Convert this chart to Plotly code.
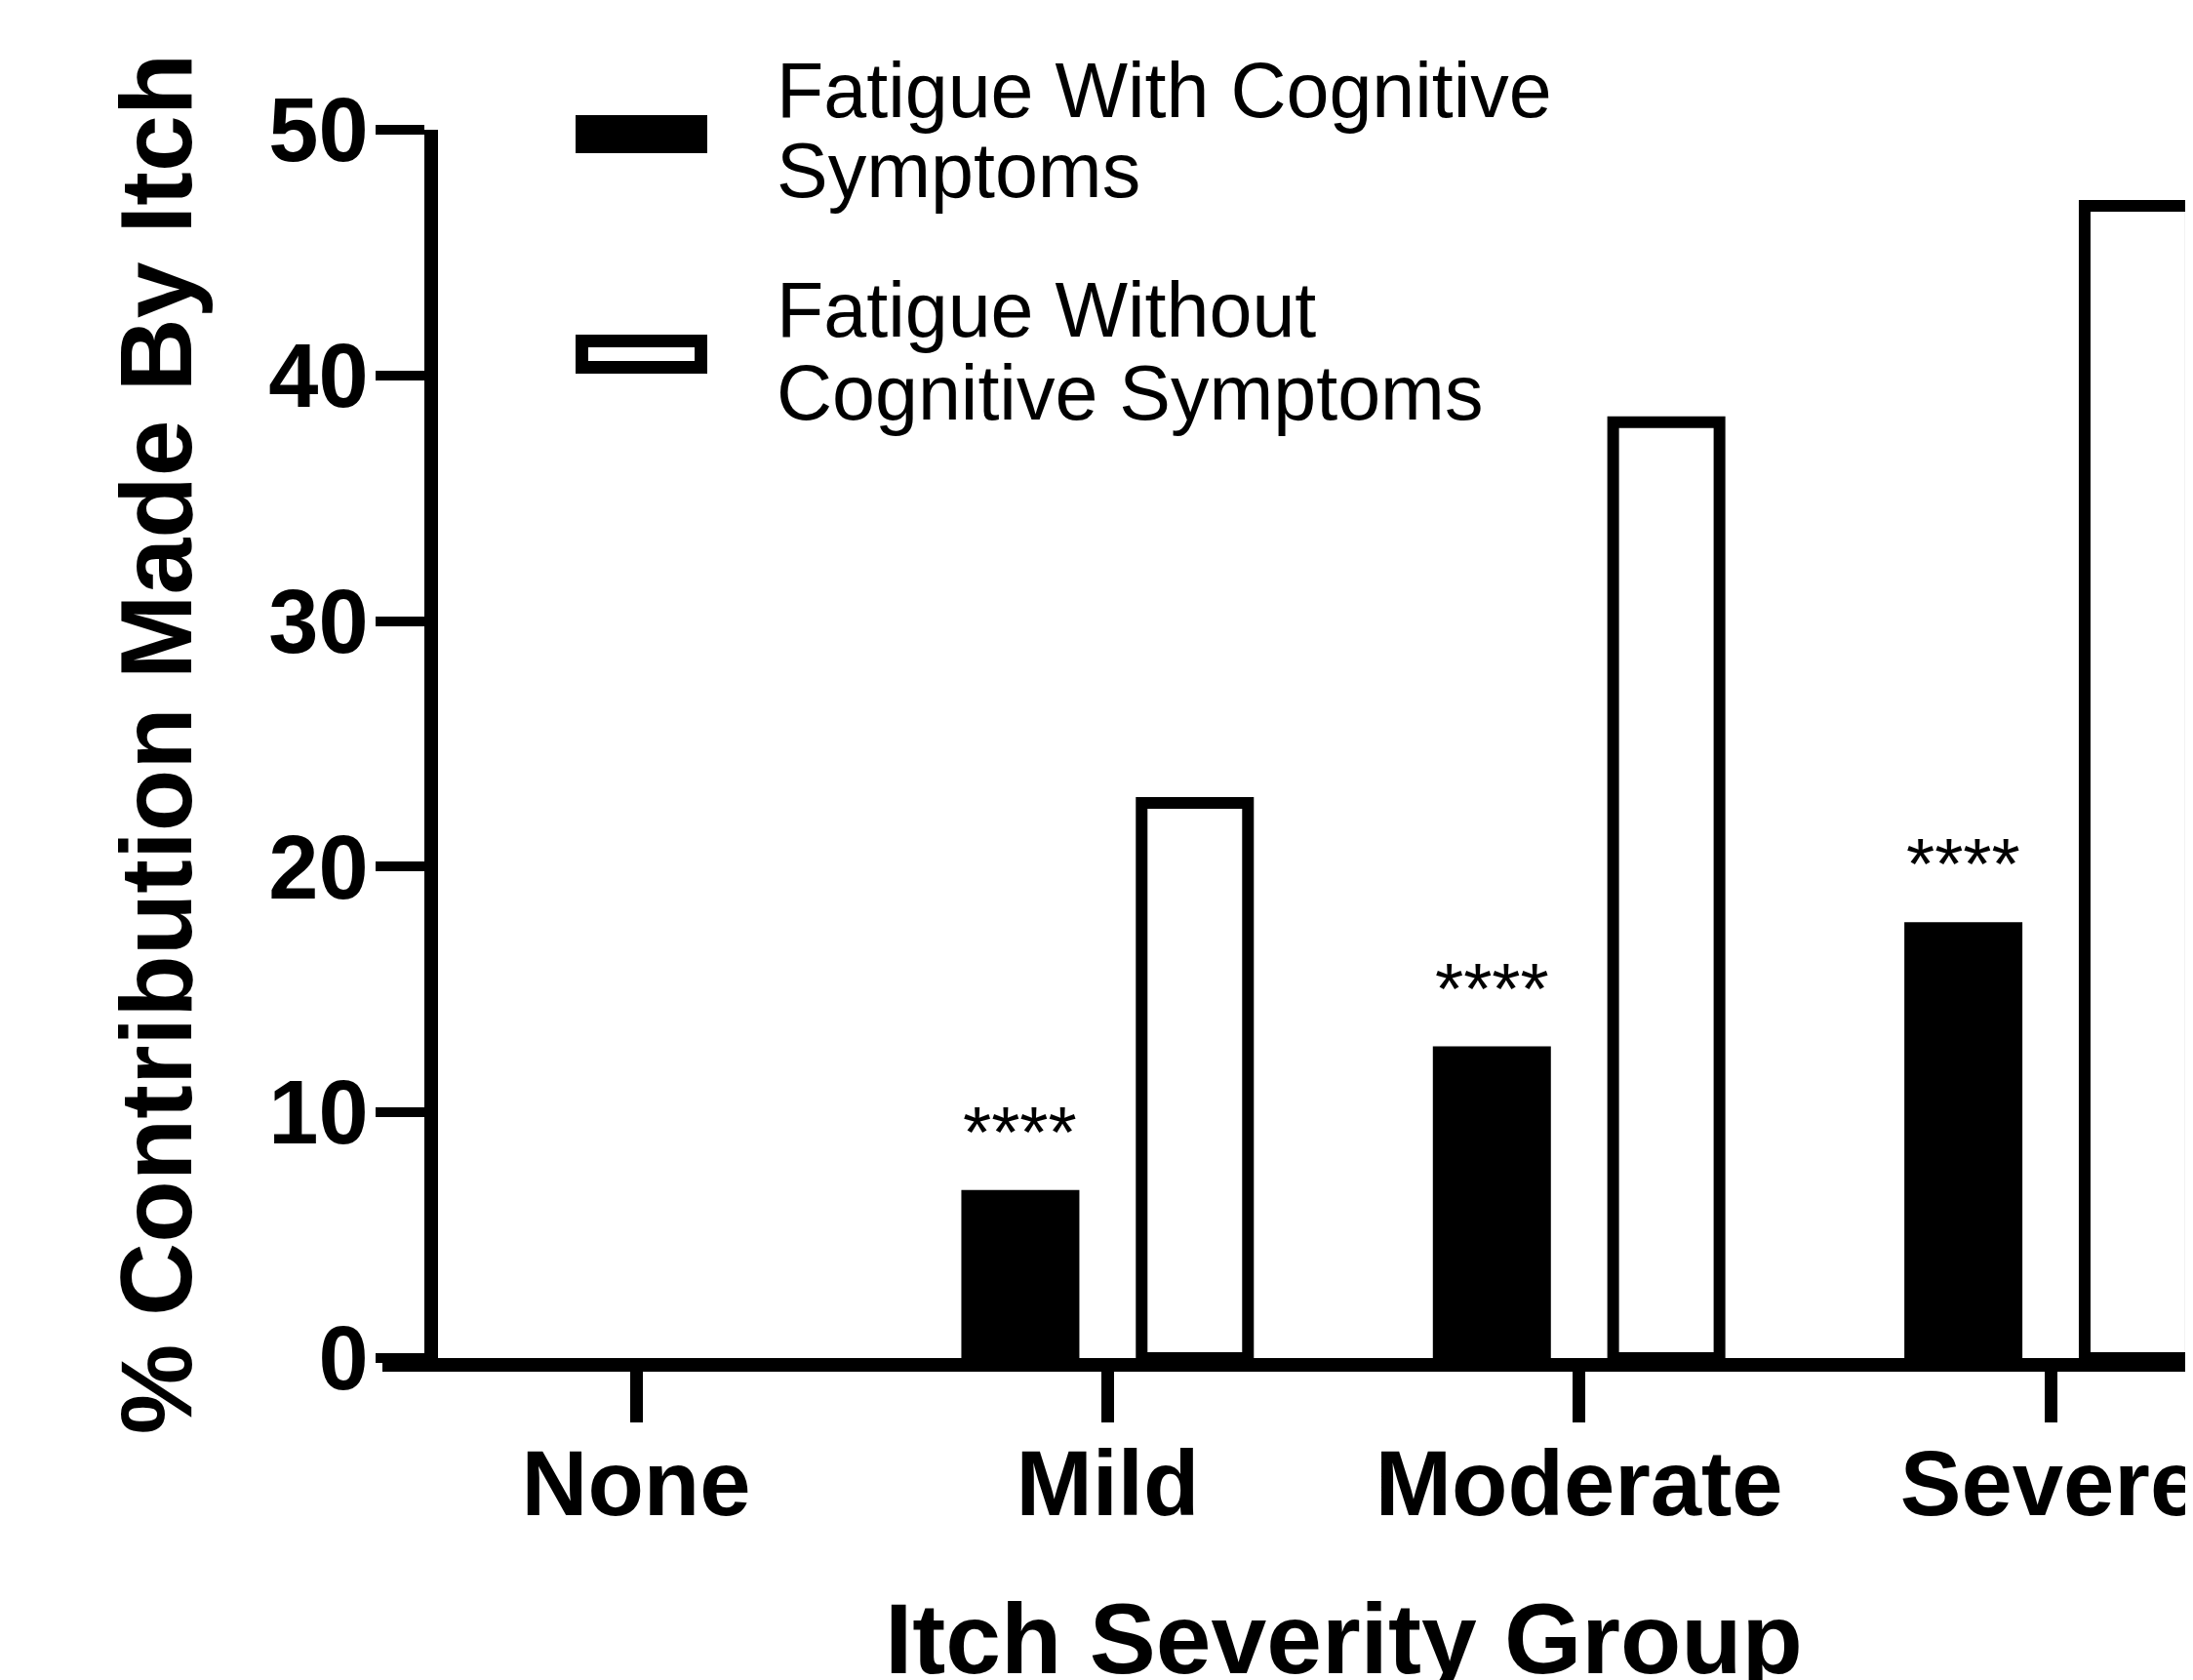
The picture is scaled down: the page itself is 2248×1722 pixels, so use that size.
import plotly.graph_objects as go

# ---- data ----
categories = ["None", "Mild", "Moderate", "Severe"]
with_cog = [0, 6.6, 12.45, 17.5]
without_cog = [0, 22.6, 38.1, 46.9]
sig_labels = ["", "****", "****", "****"]
series_names = ["Fatigue With Cognitive Symptoms", "Fatigue Without Cognitive Symptoms"]
y_ticks = [0, 10, 20, 30, 40, 50]

# page body has an 8px default margin; lay out in screen pixels and compensate
OFF = 8
W, H = 2248 - OFF, 1722 - OFF
ML, MR, MT = 392 - OFF, 0, 133 - OFF
PLOT_BOTTOM = 1392 - OFF
MB = H - PLOT_BOTTOM
PW, PH = W - ML - MR, PLOT_BOTTOM - MT
X_RANGE = [-0.538, 3.302]
px_per_cat = PW / (X_RANGE[1] - X_RANGE[0])

BAR_W = 0.2255
HALF = 0.185
LW = 12

FONT = "Liberation Sans, Arial, sans-serif"


def px2x(p):
    return (p - OFF - ML) / PW


def px2y(p):
    return (PLOT_BOTTOM - (p - OFF)) / PH


fig = go.Figure()
fig.add_trace(go.Bar(
    x=categories, y=with_cog, name=series_names[0],
    width=BAR_W, offset=-HALF - BAR_W / 2,
    marker=dict(color="black",
                line=dict(color="black", width=[LW if v else 0 for v in with_cog])),
    showlegend=False,
))
fig.add_trace(go.Bar(
    x=categories, y=without_cog, name=series_names[1],
    width=BAR_W, offset=HALF - BAR_W / 2,
    marker=dict(color="white",
                line=dict(color="black", width=[LW if v else 0 for v in without_cog])),
    showlegend=False,
))

# significance stars
for c, v, s in zip(categories, with_cog, sig_labels):
    if s:
        fig.add_annotation(x=c, y=v, text=s, showarrow=False,
                           xshift=-HALF * px_per_cat, yshift=22,
                           yanchor="bottom", xanchor="center",
                           font=dict(family=FONT, size=75, color="black"))

# legend (drawn manually to reproduce the wide rectangle swatches)
fig.add_shape(type="rect", xref="paper", yref="paper",
              x0=px2x(590), x1=px2x(725), y0=px2y(157), y1=px2y(118),
              fillcolor="black", line=dict(width=0))
fig.add_shape(type="rect", xref="paper", yref="paper",
              x0=px2x(596.5), x1=px2x(718.5), y0=px2y(376.5), y1=px2y(349.5),
              fillcolor="white", line=dict(color="black", width=13))
legend_lines = [("Fatigue With Cognitive", 118), ("Symptoms", 200),
                ("Fatigue Without", 343), ("Cognitive Symptoms", 428)]
for txt, base in legend_lines:
    fig.add_annotation(xref="paper", yref="paper", x=px2x(794), y=px2y(base - 0.905 * 79 - 1),
                       text=txt, showarrow=False, xanchor="left", yanchor="top",
                       font=dict(family=FONT, size=79, color="black"))

# x axis title (centred on the full original axis, which is cropped at the right)
fig.add_annotation(xref="x", yref="paper", x=1.5, y=px2y(1714 - 0.905 * 102 - 1),
                   text="Itch Severity Group", showarrow=False,
                   xanchor="center", yanchor="top",
                   font=dict(family=FONT, size=102, color="black", weight="bold"))

fig.update_layout(
    width=W, height=H,
    margin=dict(l=ML, r=MR, t=MT, b=MB, autoexpand=False),
    plot_bgcolor="white", paper_bgcolor="white",
    barmode="group",
    xaxis=dict(
        type="category", range=X_RANGE, domain=[0, 1],
        showline=True, linecolor="black", linewidth=14,
        ticks="outside", ticklen=52, tickwidth=13, tickcolor="black",
        ticklabelstandoff=-18,
        tickfont=dict(family=FONT, size=94, color="black", weight="bold"),
        showgrid=False, zeroline=False, automargin=False,
    ),
    yaxis=dict(
        range=[0, 50], tickvals=y_ticks, anchor="free", position=px2x(442),
        showline=True, linecolor="black", linewidth=14,
        ticks="outside", ticklen=50, tickwidth=10, tickcolor="black",
        ticklabelstandoff=-11,
        tickfont=dict(family=FONT, size=92, color="black", weight="bold"),
        showgrid=False, zeroline=False, automargin=False,
        title=dict(text="% Contribution Made By Itch", standoff=43,
                   font=dict(family=FONT, size=104, color="black", weight="bold")),
    ),
)

fig.write_html("out.html")
